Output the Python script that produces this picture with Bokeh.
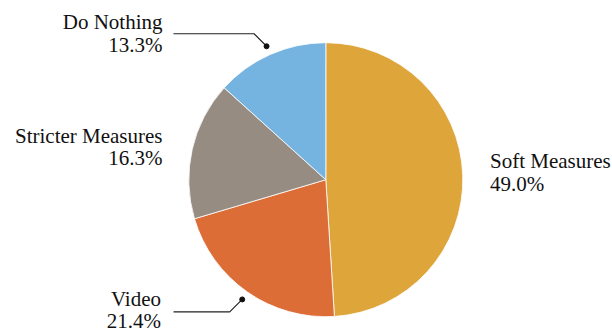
import math
from bokeh.plotting import figure
from bokeh.models import Range1d, ColumnDataSource
from bokeh.core.properties import value
from bokeh.embed import file_html
from bokeh.resources import INLINE

# ---- data ----
categories = ["Soft Measures", "Video", "Stricter Measures", "Do Nothing"]
shares = [49.0, 21.4, 16.3, 13.3]
colors = ["#DDA53A", "#DD6D37", "#978C82", "#75B4E0"]

# ---- layout (pixels, y measured from top) ----
W, H = 612, 333
CX, CY, R = 325.3, 179.2, 137.0
FONT = "Liberation Serif"
FS = "21px"
BASE_SHIFT = -7.0  # compensate renderer baseline offset
# label anchor: (x, baseline of first line, align)
label_pos = {
    "Soft Measures": (489.5, 167.5, "left"),
    "Video": (160.5, 305.0, "right"),
    "Stricter Measures": (162.0, 142.0, "right"),
    "Do Nothing": (162.0, 28.5, "right"),
}
LINE_GAP = 22.5
leader_for = {"Video": 173.0, "Do Nothing": 173.0}  # end x of horizontal leader

def Y(py):
    return H - py

p = figure(width=W, height=H, output_backend="svg", toolbar_location=None,
           x_range=Range1d(0, W), y_range=Range1d(0, H),
           x_axis_type=None, y_axis_type=None, min_border=0,
           outline_line_color=None, background_fill_color="white",
           border_fill_color="white")
p.grid.visible = False

total = sum(shares)
starts, ends = [], []
cum = 0.0
for s in shares:
    a0 = math.pi / 2 - 2 * math.pi * (cum + s) / total
    a1 = math.pi / 2 - 2 * math.pi * cum / total
    starts.append(a0)
    ends.append(a1)
    cum += s

src = ColumnDataSource(dict(x=[CX] * len(shares), y=[Y(CY)] * len(shares),
                            start=starts, end=ends, color=colors))
p.wedge(x="x", y="y", radius=R, start_angle="start", end_angle="end",
        fill_color="color", line_color="white", line_width=0.8, source=src)

# labels
for cat, s, a0, a1 in zip(categories, shares, starts, ends):
    x, b, align = label_pos[cat]
    b = b + BASE_SHIFT
    p.text(x=[x, x], y=[Y(b), Y(b + LINE_GAP)], text=[cat, f"{s:.1f}%"],
           text_font=value(FONT), text_font_size=FS, text_color="#111111",
           text_align=align, text_baseline="alphabetic")
    if cat in leader_for:
        mid = (a0 + a1) / 2
        dx = (R + 9) * math.cos(mid)
        dy = (R + 9) * math.sin(mid)
        px, py = CX + dx, Y(CY) + dy
        d = 12.5
        sy = 1 if dy > 0 else -1
        ex, ey = px - d, py + sy * d
        p.line(x=[px, ex, leader_for[cat]], y=[py, ey, ey],
               line_color="#222222", line_width=1.1)
        p.scatter(x=[px], y=[py], size=5, color="#111111")

open("out.html", "w").write(file_html(p, INLINE))
